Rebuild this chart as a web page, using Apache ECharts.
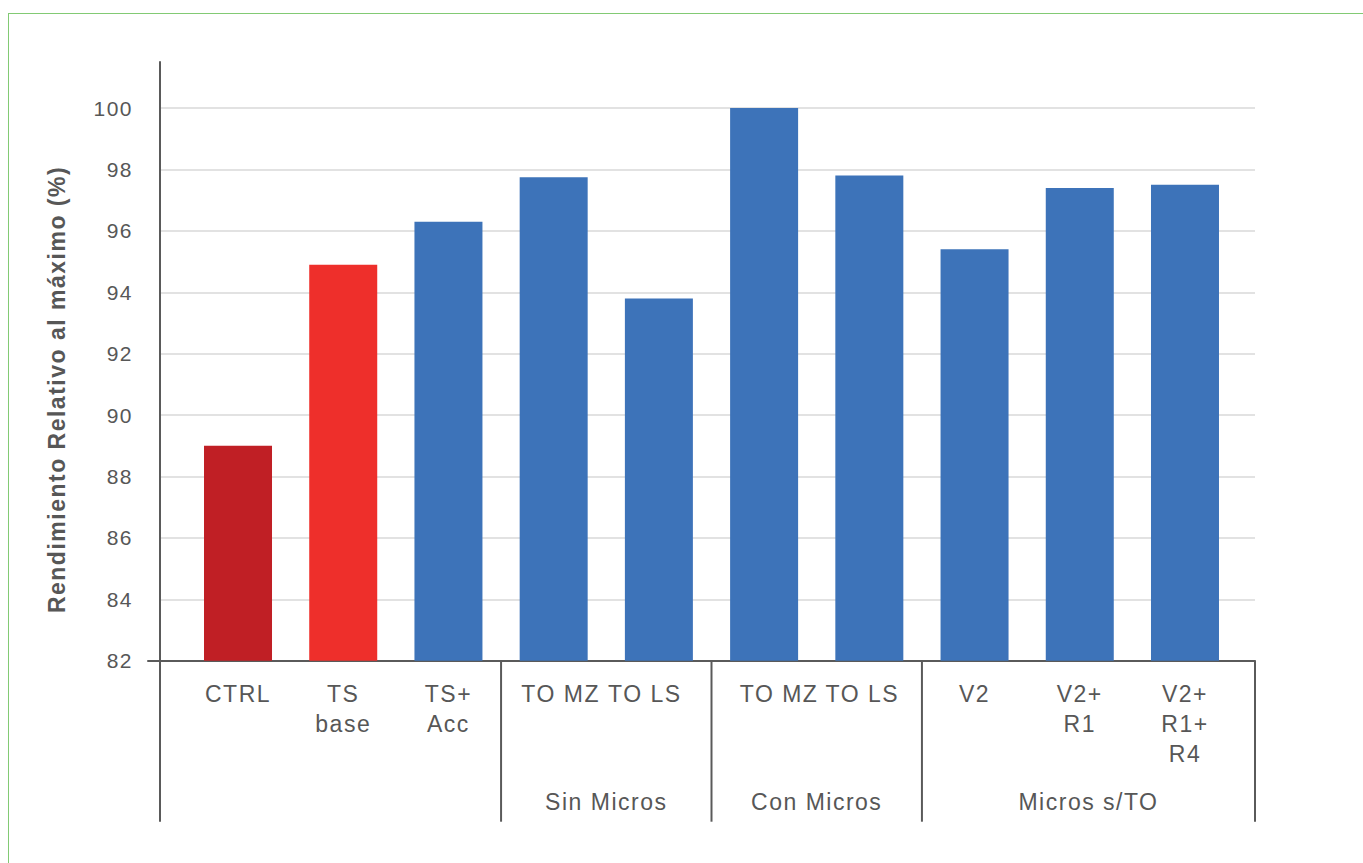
<!DOCTYPE html>
<html>
<head>
<meta charset="utf-8">
<script src="https://cdn.jsdelivr.net/npm/echarts@6/dist/echarts.min.js"></script>
<style>
  html, body { margin: 0; padding: 0; background: #ffffff; overflow: hidden; }
  #wrap { position: relative; width: 1363px; height: 863px; overflow: hidden; }
  #chart { position: absolute; left: 0; top: 0; width: 1363px; height: 863px; }
  #frame { position: absolute; left: 8px; top: 12.5px; width: 1400px; height: 900px;
           border: 1.5px solid #82ca74; box-sizing: border-box; pointer-events: none; }
  #chart text { letter-spacing: 1.5px; }
</style>
</head>
<body>
<div id="wrap">
  <div id="chart"></div>
  <div id="frame"></div>
</div>
<script>
// Treatments (first label row) and their yields relative to the maximum (%)
const categories = ['CTRL', 'TS\nbase', 'TS+\nAcc', 'TO MZ', 'TO LS', 'TO MZ', 'TO LS', 'V2', 'V2+\nR1', 'V2+\nR1+\nR4'];
const yieldValues = [89.0, 94.9, 96.3, 97.75, 93.8, 100.0, 97.8, 95.4, 97.4, 97.5];

// Second label row: treatment groups given by first and last category index
const groupNames = ['', 'Sin Micros', 'Con Micros', 'Micros s/TO'];
const groupStarts = [0, 3, 5, 7];
const groupEnds = [2, 4, 6, 9];

// Value axis range
const Y_MIN = 82;
const Y_MAX = 101.5;
const Y_STEP = 2;

// Bar fills: control, base fertilisation, rest of treatments
const barColors = ['#c01f25', '#ee2f2b', '#3d73b9', '#3d73b9', '#3d73b9', '#3d73b9', '#3d73b9', '#3d73b9', '#3d73b9', '#3d73b9'];

// Layout: plot frame and the narrower band that holds the bars
const PLOT = { left: 160, right: 108, top: 62, bottom: 202.3 };
const BARS = { left: 185.4, right: 125.4, top: 62, bottom: 202.3 };
// horizontal nudge (px) of paired labels towards the middle of their group
const labelNudge = [0, 0, 0, 7, -14, 15, -7, 0, 0, 0];

const TEXT = '#575757';
const AXIS = '#5a5a5a';
const GRIDLINE = '#d9d9d9';
const FONT = "'Liberation Sans', Arial, Helvetica, sans-serif";

const chart = echarts.init(document.getElementById('chart'), null, { renderer: 'svg' });

const categoryData = categories.map((c, i) => {
  const n = labelNudge[i];
  if (!n) return c;
  return { value: c, textStyle: { padding: n > 0 ? [0, 0, 0, 2 * n] : [0, -2 * n, 0, 0] } };
});

const option = {
  animation: false,
  backgroundColor: '#ffffff',
  grid: [
    // plot frame: gridlines, value axis, outer separators
    PLOT,
    // bars and category labels
    BARS,
    // baseline and axis title
    { left: PLOT.left - 12, right: PLOT.right, top: 118.3, bottom: PLOT.bottom }
  ],
  xAxis: [
    {
      gridIndex: 0, type: 'category', data: [''],
      axisLine: { show: false },
      axisTick: { show: true, interval: 0, length: 161, lineStyle: { color: AXIS, width: 2 } },
      axisLabel: { show: false },
      splitLine: { show: false }
    },
    {
      gridIndex: 1, type: 'category', data: categoryData,
      axisLine: { show: false },
      axisTick: { show: false },
      axisLabel: {
        interval: 0, color: TEXT, fontFamily: FONT, fontSize: 23, lineHeight: 30, margin: 18
      }
    },
    {
      gridIndex: 2, type: 'category', data: [''],
      axisLine: { show: true, lineStyle: { color: AXIS, width: 2 } },
      axisTick: { show: false },
      axisLabel: { show: false }
    }
  ],
  yAxis: [
    {
      gridIndex: 0, type: 'value', min: Y_MIN, max: Y_MAX, interval: Y_STEP,
      axisLine: { show: true, lineStyle: { color: AXIS, width: 2 } },
      axisTick: { show: false },
      axisLabel: { color: TEXT, fontFamily: FONT, fontSize: 21, margin: 27, showMaxLabel: false },
      splitLine: { show: true, showMinLine: false, showMaxLine: false, lineStyle: { color: GRIDLINE, width: 1.5 } }
    },
    { gridIndex: 1, type: 'value', min: Y_MIN, max: Y_MAX, show: false },
    {
      gridIndex: 2, type: 'value', min: 0, max: 1,
      name: 'Rendimiento Relativo al máximo (%)',
      nameLocation: 'middle', nameGap: 80, nameRotate: 90,
      nameTextStyle: { color: TEXT, fontFamily: FONT, fontSize: 23, fontWeight: 'bold' },
      axisLine: { show: false }, axisTick: { show: false },
      axisLabel: { show: false }, splitLine: { show: false }
    }
  ],
  series: [
    {
      type: 'bar', xAxisIndex: 1, yAxisIndex: 1,
      barWidth: 68,
      data: yieldValues.map((v, i) => ({ value: v, itemStyle: { color: barColors[i] } }))
    },
    {
      // group labels and the separators between groups
      type: 'custom', xAxisIndex: 1, yAxisIndex: 1, silent: true, clip: false,
      data: groupStarts.map((s, i) => [s, groupEnds[i], Y_MIN]),
      encode: { x: [0, 1], y: 2 },
      renderItem: function (params, api) {
        const start = api.value(0);
        const end = api.value(1);
        const last = categories.length - 1;
        const band = api.size([1, 0])[0];
        // outer groups reach the edges of the plot frame
        const left = start === 0 ? PLOT.left : api.coord([start, Y_MIN])[0] - band / 2;
        const right = end === last ? api.getWidth() - PLOT.right : api.coord([end, Y_MIN])[0] + band / 2;
        const cs = params.coordSys;
        const base = cs.y + cs.height;
        const children = [{
          type: 'text',
          style: {
            text: groupNames[params.dataIndex],
            x: (left + right) / 2, y: base + 130,
            align: 'center', verticalAlign: 'top',
            fill: TEXT, fontFamily: FONT, fontSize: 23
          }
        }];
        if (start > 0) {
          children.push({
            type: 'line',
            shape: { x1: left, y1: base, x2: left, y2: base + 161 },
            style: { stroke: AXIS, lineWidth: 2 }
          });
        }
        return { type: 'group', children: children };
      }
    }
  ]
};

chart.setOption(option);
</script>
</body>
</html>
